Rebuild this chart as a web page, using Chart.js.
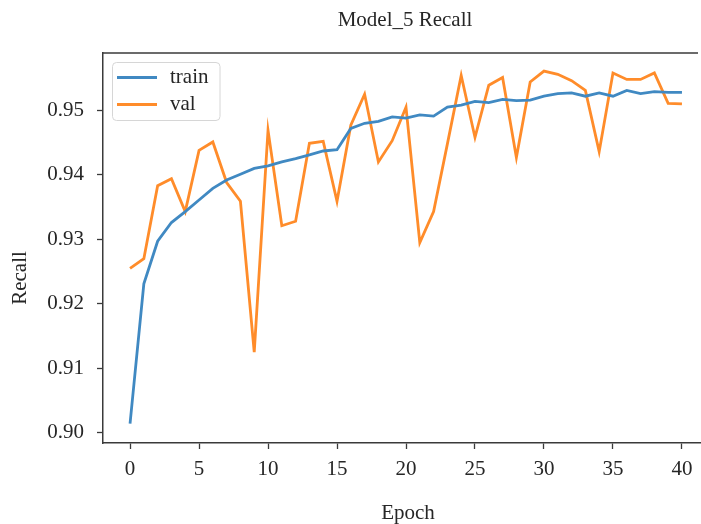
<!DOCTYPE html>
<html>
<head>
<meta charset="utf-8">
<script src="https://cdn.jsdelivr.net/npm/chart.js@4.4.0/dist/chart.umd.min.js"></script>
<style>
html,body{margin:0;padding:0;background:#fff;overflow:hidden;width:701px;height:524px;}
#wrap{position:absolute;left:0;top:0;width:701px;height:524px;overflow:hidden;}
</style>
</head>
<body>
<div id="wrap"><canvas id="c" width="701" height="524"></canvas></div>
<script>
const chartTitle = "Model_5 Recall";
const xTitle = "Epoch";
const yTitle = "Recall";
const epochs = [0,1,2,3,4,5,6,7,8,9,10,11,12,13,14,15,16,17,18,19,20,21,22,23,24,25,26,27,28,29,30,31,32,33,34,35,36,37,38,39,40];
const trainRecall = [0.9014,0.9231,0.9297,0.9326,0.9343,0.9361,0.9379,0.9392,0.9401,0.9410,0.9414,
  0.9420,0.9425,0.9431,0.9437,0.9439,0.9472,0.9480,0.9483,0.9490,0.9488,
  0.9493,0.9491,0.9505,0.9508,0.9514,0.9512,0.9517,0.9515,0.9516,0.9522,
  0.9526,0.9527,0.9522,0.9527,0.9522,0.9531,0.9526,0.9529,0.9528,0.9528];
const valRecall = [0.9255,0.9270,0.9383,0.9394,0.9343,0.9438,0.9451,0.9388,0.9359,0.9125,0.9469,
  0.9321,0.9328,0.9449,0.9452,0.9359,0.9477,0.9525,0.9420,0.9453,0.9505,
  0.9295,0.9343,0.9448,0.9554,0.9458,0.9539,0.9551,0.9427,0.9544,0.9561,
  0.9556,0.9546,0.9531,0.9436,0.9558,0.9548,0.9548,0.9558,0.9511,0.9510];
const seriesNames = ["train","val"];
const xTicks = [0,5,10,15,20,25,30,35,40];
const yTicks = [0.90,0.91,0.92,0.93,0.94,0.95];

const FONT = "'Liberation Serif','Times New Roman',serif";
const INK = "#262626";
const SPINE = "#3a3a3a";
const colors = ["#4089c2","#ff8c2a"];

const framePlugin = {
  id: 'frame',
  afterDatasetsDraw(chart) {
    const {ctx, chartArea: a} = chart;
    ctx.save();
    ctx.strokeStyle = SPINE;
    ctx.lineWidth = 1.5;
    ctx.beginPath();
    ctx.moveTo(a.left, a.top);
    ctx.lineTo(a.right - 3, a.top);
    ctx.stroke();
    // legend
    const lx = 112.5, ly = 62.5, lw = 107.5, lh = 58;
    ctx.beginPath();
    if (ctx.roundRect) ctx.roundRect(lx, ly, lw, lh, 4); else ctx.rect(lx, ly, lw, lh);
    ctx.fillStyle = "rgba(255,255,255,0.85)";
    ctx.fill();
    ctx.strokeStyle = "#d6d6d6";
    ctx.lineWidth = 1;
    ctx.stroke();
    ctx.font = "21px " + FONT;
    ctx.textBaseline = "middle";
    ctx.textAlign = "left";
    chart.data.datasets.forEach((ds, i) => {
      const y = 77.5 + i * 27;
      ctx.beginPath();
      ctx.moveTo(117, y);
      ctx.lineTo(157, y);
      ctx.strokeStyle = ds.borderColor;
      ctx.lineWidth = 2.8;
      ctx.stroke();
      ctx.fillStyle = INK;
      ctx.fillText(ds.label, 170, y);
    });
    ctx.restore();
  },
  afterDraw(chart) {
    const {ctx} = chart;
    ctx.save();
    ctx.fillStyle = INK;
    ctx.font = "21px " + FONT;
    ctx.textAlign = "center";
    ctx.textBaseline = "middle";
    ctx.fillText(chartTitle, 405, 20);
    ctx.fillText(xTitle, 408, 513);
    ctx.translate(20, 278);
    ctx.rotate(-Math.PI / 2);
    ctx.fillText(yTitle, 0, 0);
    ctx.restore();
  }
};

new Chart(document.getElementById('c'), {
  type: 'line',
  data: {
    datasets: seriesNames.map((n, i) => ({
      label: n,
      data: epochs.map((e, k) => ({x: e, y: (i === 0 ? trainRecall : valRecall)[k]})),
      borderColor: colors[i],
      backgroundColor: colors[i],
      borderWidth: 2.8,
      pointRadius: 0,
      tension: 0,
      fill: false
    }))
  },
  options: {
    responsive: false,
    animation: false,
    devicePixelRatio: 1,
    layout: {padding: {top: 53, left: 0, right: 0, bottom: 0}},
    plugins: {legend: {display: false}, title: {display: false}, tooltip: {enabled: false}},
    scales: {
      x: {
        type: 'linear',
        min: -1.96, max: 41.38,
        afterBuildTicks(s) { s.ticks = xTicks.map(v => ({value: v})); },
        afterFit(s) { s.height = 81; },
        grid: {drawOnChartArea: false, drawTicks: true, tickLength: 6, tickColor: SPINE, tickWidth: 1.3},
        border: {display: true, color: SPINE, width: 1.5},
        ticks: {color: INK, font: {family: FONT, size: 21}, padding: 8, maxRotation: 0,
          callback: v => String(v)}
      },
      y: {
        type: 'linear',
        min: 0.8984, max: 0.9589,
        afterBuildTicks(s) { s.ticks = yTicks.map(v => ({value: v})); },
        afterFit(s) { s.width = 103; },
        grid: {drawOnChartArea: false, drawTicks: true, tickLength: 6, tickColor: SPINE, tickWidth: 1.3},
        border: {display: true, color: SPINE, width: 1.5},
        ticks: {color: INK, font: {family: FONT, size: 21}, padding: 13,
          callback: v => v.toFixed(2)}
      }
    }
  },
  plugins: [framePlugin]
});
</script>
</body>
</html>
